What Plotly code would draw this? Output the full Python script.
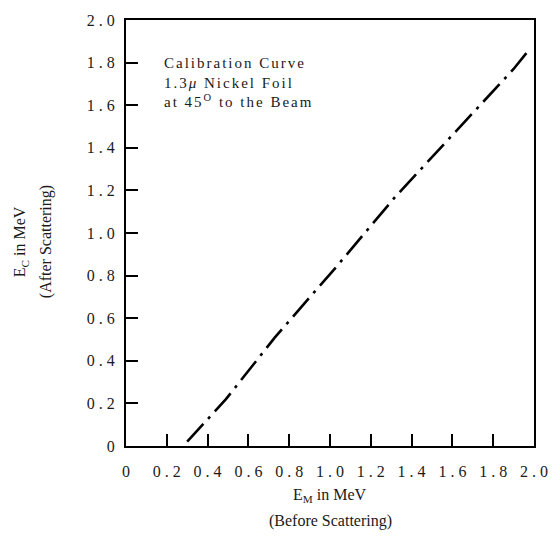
import plotly.graph_objects as go

# Data
em_mev = [0.30, 0.49, 0.73, 1.03, 1.32, 1.90, 1.98]
ec_mev = [0.02, 0.22, 0.51, 0.84, 1.17, 1.77, 1.865]

x_tick_vals = [0, 0.2, 0.4, 0.6, 0.8, 1.0, 1.2, 1.4, 1.6, 1.8, 2.0]
x_tick_text = ["0", "0 . 2", "0 . 4", "0 . 6", "0 . 8", "1 . 0", "1 . 2", "1 . 4", "1 . 6", "1 . 8", "2 . 0"]
y_tick_vals = [0, 0.2, 0.4, 0.6, 0.8, 1.0, 1.2, 1.4, 1.6, 1.8, 2.0]
y_tick_text = ["0", "0 . 2", "0 . 4", "0 . 6", "0 . 8", "1 . 0", "1 . 2", "1 . 4", "1 . 6", "1 . 8", "2 . 0"]

note_lines = ["Calibration Curve", "1.3<i>μ</i> Nickel Foil", "at 45<sup>O</sup> to the Beam"]

FONT = "Liberation Serif"
INK = "#1a1a1a"

fig = go.Figure()
fig.add_trace(go.Scatter(
    x=em_mev, y=ec_mev, mode="lines",
    line=dict(color="black", width=2.6, dash="24px,7px,3px,7px"),
    showlegend=False, hoverinfo="skip",
))

axis_common = dict(
    range=[0, 2.0], showgrid=False, zeroline=False,
    showline=True, linecolor="black", linewidth=2, mirror=True,
    ticks="inside", ticklen=12, tickwidth=1.5, tickcolor="black",
    tickfont=dict(family=FONT, size=16, color=INK),
)

fig.update_xaxes(tickvals=x_tick_vals, ticktext=x_tick_text, ticklabelstandoff=10, **axis_common)
fig.update_yaxes(tickvals=y_tick_vals, ticktext=y_tick_text, ticklabelstandoff=6, **axis_common)

# calibration note (one text block)
fig.add_annotation(
    xref="paper", yref="paper", x=0.088, y=0.922,
    xanchor="left", yanchor="top", align="left", showarrow=False,
    text="<br>".join(note_lines), font=dict(family=FONT, size=15, color=INK),
)

# axis titles
fig.add_annotation(
    xref="paper", yref="paper", x=0.5, y=-0.117, xanchor="center", yanchor="middle",
    showarrow=False, text="E<sub>M</sub> in MeV",
    font=dict(family=FONT, size=16, color=INK),
)
fig.add_annotation(
    xref="paper", yref="paper", x=0.5, y=-0.177, xanchor="center", yanchor="middle",
    showarrow=False, text="(Before Scattering)",
    font=dict(family=FONT, size=16, color=INK),
)
fig.add_annotation(
    xref="paper", yref="paper", x=-0.258, y=0.48, xanchor="center", yanchor="middle",
    showarrow=False, text="E<sub>C</sub> in MeV", textangle=-90,
    font=dict(family=FONT, size=16, color=INK),
)
fig.add_annotation(
    xref="paper", yref="paper", x=-0.197, y=0.48, xanchor="center", yanchor="middle",
    showarrow=False, text="(After Scattering)", textangle=-90,
    font=dict(family=FONT, size=16, color=INK),
)

fig.update_layout(
    width=560, height=544,
    margin=dict(l=126, r=13, t=18, b=98),
    paper_bgcolor="white", plot_bgcolor="white",
)

# widen the letter spacing of the typewritten note, as in the scanned original
post = """
var anns = document.querySelectorAll('g.annotation text.annotation-text');
if (anns.length) { anns[0].style.letterSpacing = '2px'; }
"""

fig.write_html("out.html", post_script=post)
